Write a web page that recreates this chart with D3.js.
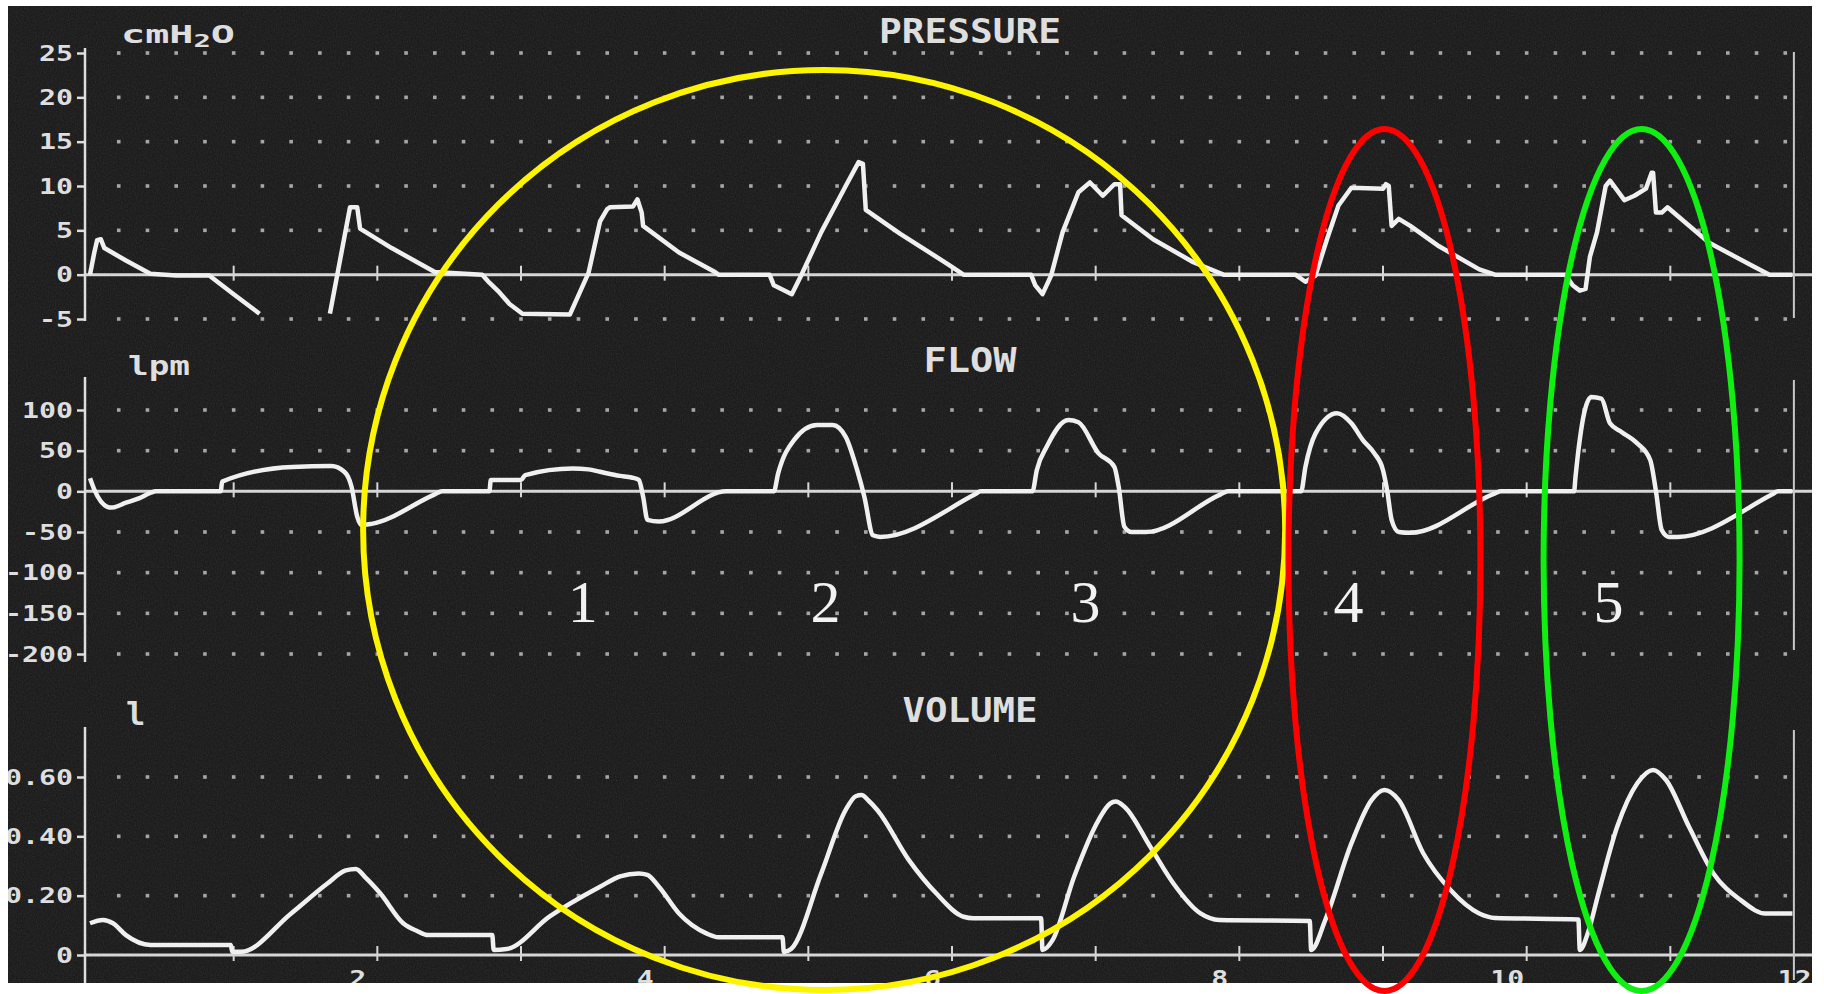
<!DOCTYPE html>
<html>
<head>
<meta charset="utf-8">
<script src="https://cdn.jsdelivr.net/npm/d3@7"></script>
<style>
body { margin: 0; background: #ffffff; }
svg { display: block; }
</style>
</head>
<body>
<svg id="vent" width="1824" height="994"></svg>
<script>
// ---- data (time in s) ----
var timeTicks = [2, 4, 6, 8, 10, 12];

var pressureTicks = [25, 20, 15, 10, 5, 0, -5];
var pressureLabels = ["25", "20", "15", "10", "5", "0", "-5"];
var flowTicks = [100, 50, 0, -50, -100, -150, -200];
var flowLabels = ["100", "50", "0", "-50", "-100", "-150", "-200"];
var volumeTicks = [0.6, 0.4, 0.2, 0];
var volumeLabels = ["0.60", "0.40", "0.20", "0"];

// cmH2O, null = trace off the bottom of the screen
var pressure = [
    [0, 0], [0.03, 2.5], [0.05, 3.9], [0.075, 4.0], [0.10, 3.0], [0.25, 1.6], [0.42, 0.1],
    [0.6, -0.1], [0.83, -0.1], [1.0, -2.2], [1.18, -4.4], null,
    [1.67, -4.4], [1.81, 7.6], [1.86, 7.6], [1.88, 5.2], [2.1, 3.0], [2.40, 0.3], [2.73, 0],
    [2.78, -0.9], [2.85, -2.0], [2.92, -3.3], [3.01, -4.4], [3.34, -4.5], [3.47, 0.2],
    [3.55, 6.0], [3.60, 7.4], [3.62, 7.6], [3.78, 7.7], [3.81, 8.5], [3.84, 7.0], [3.85, 5.5],
    [4.10, 2.5], [4.35, 0.3], [4.375, 0], [4.73, 0], [4.76, -1.2], [4.885, -2.2], [4.95, -0.1],
    [5.09, 4.8], [5.26, 10.0], [5.35, 12.7], [5.38, 12.5], [5.40, 7.3], [5.64, 4.6],
    [5.97, 1.2], [6.08, 0], [6.55, 0], [6.58, -1.2], [6.63, -2.2], [6.69, -0.1], [6.77, 4.8],
    [6.88, 9.3], [6.96, 10.4], [7.05, 8.9], [7.13, 10.2], [7.17, 10.2], [7.18, 6.7],
    [7.40, 4.0], [7.68, 1.4], [7.89, 0], [8.39, 0], [8.46, -0.8], [8.53, -0.1], [8.61, 4.0],
    [8.69, 7.8], [8.78, 9.8], [9.0, 9.7], [9.02, 10.2], [9.04, 10.0], [9.06, 5.5], [9.11, 6.3],
    [9.19, 5.5], [9.39, 3.2], [9.67, 0.6], [9.78, 0], [10.27, 0], [10.32, -1.2], [10.37, -1.8],
    [10.41, -1.6], [10.44, 2.0], [10.49, 4.8], [10.55, 10.0], [10.58, 10.6], [10.68, 8.4],
    [10.75, 8.9], [10.83, 9.7], [10.87, 11.5], [10.88, 11.5], [10.90, 7.0], [10.94, 7.0],
    [10.98, 7.6], [11.27, 3.6], [11.57, 1.0], [11.69, 0], [11.85, 0]
];

// lpm
var flow = [
    [0, 16], [0.03, 2], [0.12, -19], [0.15, -20], [0.25, -14], [0.34, -8.6], [0.42, -2],
    [0.46, 0], [0.91, 0], [0.92, 12], [1.41, 30], [1.68, 31], [1.77, 24], [1.82, 6],
    [1.86, -31], [1.89, -41.5], [1.96, -40], [2.40, -3.7], [2.45, 0], [2.78, 0], [2.79, 14],
    [3.0, 14], [3.03, 20], [3.36, 28], [3.47, 27], [3.55, 24], [3.69, 19], [3.77, 17],
    [3.82, 14], [3.85, -6.6], [3.88, -35], [3.96, -37], [4.43, 0], [4.76, 0], [4.79, 22],
    [4.90, 63], [5.06, 81.5], [5.17, 81.5], [5.26, 67], [5.34, 26], [5.39, -6.6], [5.45, -54],
    [5.50, -56], [6.16, -3.7], [6.2, 0], [6.56, 0], [6.59, 26], [6.66, 55], [6.81, 87.7],
    [6.88, 85], [7.02, 46.7], [7.13, 30], [7.16, 5.7], [7.20, -43.5], [7.25, -50], [7.35, -50],
    [7.87, -3.7], [7.92, 0], [8.43, 0], [8.46, 30], [8.53, 71], [8.68, 96], [8.78, 83.6],
    [8.86, 63], [8.94, 46.7], [9.0, 26], [9.03, 0], [9.06, -35], [9.11, -50], [9.19, -51],
    [9.78, -2.5], [9.82, 0], [10.33, 0], [10.34, 18], [10.40, 96], [10.45, 116], [10.52, 114],
    [10.58, 83.6], [10.66, 73], [10.77, 59], [10.86, 38.5], [10.90, 0], [10.94, -47.6],
    [10.99, -56], [11.05, -56], [11.71, -3.7], [11.75, 0], [11.85, 0]
];

// litres
var volume = [
    [0, 0.107], [0.09, 0.118], [0.16, 0.107], [0.25, 0.067], [0.42, 0.034], [0.98, 0.034],
    [0.99, 0.011], [1.05, 0.011], [1.4, 0.14], [1.65, 0.24], [1.78, 0.285], [1.85, 0.29],
    [1.92, 0.26], [2.02, 0.208], [2.18, 0.107], [2.28, 0.08], [2.35, 0.067], [2.80, 0.067],
    [2.81, 0.017], [2.90, 0.02], [3.2, 0.13], [3.55, 0.23], [3.69, 0.265], [3.82, 0.275],
    [3.88, 0.27], [3.96, 0.23], [4.10, 0.14], [4.29, 0.073], [4.375, 0.06], [4.82, 0.06],
    [4.83, 0.01], [4.88, 0.02], [5.09, 0.275], [5.26, 0.489], [5.33, 0.535], [5.37, 0.539],
    [5.42, 0.52], [5.48, 0.489], [5.70, 0.32], [5.89, 0.208], [6.08, 0.129], [6.15, 0.124],
    [6.62, 0.124], [6.63, 0.017], [6.70, 0.05], [6.85, 0.264], [7.02, 0.455], [7.10, 0.51],
    [7.14, 0.517], [7.20, 0.50], [7.38, 0.365], [7.54, 0.242], [7.73, 0.14], [7.86, 0.118],
    [8.49, 0.115], [8.50, 0.017], [8.60, 0.12], [8.78, 0.376], [8.92, 0.522], [9.01, 0.556],
    [9.11, 0.522], [9.28, 0.343], [9.47, 0.219], [9.67, 0.14], [9.78, 0.125], [10.36, 0.12],
    [10.37, 0.017], [10.43, 0.08], [10.50, 0.208], [10.63, 0.432], [10.77, 0.579],
    [10.88, 0.624], [10.97, 0.59], [11.13, 0.432], [11.30, 0.275], [11.49, 0.185],
    [11.66, 0.14], [11.85, 0.14]
];

var breathLabels = ["1", "2", "3", "4", "5"];
var breathLabelTimes = [3.43, 5.12, 6.93, 8.76, 10.57];

// ---- layout ----
var svg = d3.select("#vent");
var bgLeft = 8, bgTop = 6, bgRight = 1812, bgBottom = 983;
var axisX = 85;
var tEnd = 11.86;
var ink = "#f0f0f0";
var labelInk = "#dedede";
var mono = "'DejaVu Sans Mono', 'Liberation Mono', monospace";

var scX = d3.scaleLinear().domain([0, 12]).range([90, 1814]);

var defs = svg.append("defs");
defs.append("clipPath").attr("id", "screen")
    .append("rect")
    .attr("x", bgLeft).attr("y", bgTop)
    .attr("width", bgRight - bgLeft).attr("height", bgBottom - bgTop);
var grain = defs.append("filter").attr("id", "grain")
    .attr("x", 0).attr("y", 0).attr("width", 1).attr("height", 1);
grain.append("feTurbulence").attr("type", "fractalNoise")
    .attr("baseFrequency", "0.85 0.6").attr("numOctaves", 2).attr("seed", 7);
grain.append("feColorMatrix").attr("type", "saturate").attr("values", 0);

// screen background
svg.append("rect")
    .attr("x", bgLeft).attr("y", bgTop)
    .attr("width", bgRight - bgLeft).attr("height", bgBottom - bgTop)
    .attr("fill", "#161616");
svg.append("rect")
    .attr("x", bgLeft).attr("y", bgTop)
    .attr("width", bgRight - bgLeft).attr("height", bgBottom - bgTop)
    .attr("filter", "url(#grain)")
    .attr("opacity", 0.13);

var screen = svg.append("g").attr("clip-path", "url(#screen)");

var panels = [
    { title: "PRESSURE", titleW: 182, titleY: 43, data: pressure,
      ticks: pressureTicks, labels: pressureLabels, dots: [25, 20, 15, 10, 5, -5],
      y: d3.scaleLinear().domain([-5, 25]).range([319, 53]),
      axisTop: 48, axisBottom: 321, frameTop: 52, frameBottom: 318, curve: d3.curveLinear },
    { title: "FLOW", titleW: 93, titleY: 372, data: flow,
      ticks: flowTicks, labels: flowLabels, dots: [100, 50, -50, -100, -150, -200],
      y: d3.scaleLinear().domain([-200, 100]).range([654, 410]),
      axisTop: 377, axisBottom: 662, frameTop: 380, frameBottom: 650, curve: d3.curveMonotoneX },
    { title: "VOLUME", titleW: 135, titleY: 722, data: volume,
      ticks: volumeTicks, labels: volumeLabels, dots: [0.6, 0.4, 0.2],
      y: d3.scaleLinear().domain([0, 0.6]).range([955, 777]),
      axisTop: 727, axisBottom: 983, frameTop: 730, frameBottom: 980, curve: d3.curveMonotoneX }
];

var dotTimes = d3.range(1, 60).map(d => d * 0.2);

function drawPanel(p) {
    var g = screen.append("g");
    var y0 = p.y(0);

    // dotted grid
    p.dots.forEach(function(v) {
        g.append("g").selectAll("rect")
            .data(dotTimes).enter().append("rect")
            .attr("x", d => scX(d) - 1.8)
            .attr("y", p.y(v) - 1.8)
            .attr("width", 3.6).attr("height", 3.6)
            .attr("fill", "#a6a6a6");
    });

    // zero line + one-second ticks
    g.append("line")
        .attr("x1", axisX).attr("x2", bgRight)
        .attr("y1", y0).attr("y2", y0)
        .attr("stroke", "#d6d6d6").attr("stroke-width", 3);
    g.append("g").selectAll("line")
        .data(d3.range(1, 12)).enter().append("line")
        .attr("x1", d => scX(d)).attr("x2", d => scX(d))
        .attr("y1", y0 - 9).attr("y2", y0 + 6)
        .attr("stroke", "#d6d6d6").attr("stroke-width", 2);

    // left axis
    var yAxis = g.append("g")
        .attr("transform", "translate(" + axisX + ",0)")
        .call(d3.axisLeft(p.y).tickValues(p.ticks).tickSize(8).tickPadding(4)
            .tickFormat((d, i) => p.labels[i]));
    yAxis.select(".domain").remove();
    yAxis.selectAll("line").attr("stroke", labelInk).attr("stroke-width", 2.5);
    yAxis.selectAll("text")
        .attr("fill", labelInk)
        .style("font-family", mono).style("font-weight", "bold").style("font-size", "22px")
        .attr("textLength", function(d, i) { return p.labels[i].length * 17; })
        .attr("lengthAdjust", "spacingAndGlyphs");
    g.append("line")
        .attr("x1", axisX).attr("x2", axisX)
        .attr("y1", p.axisTop).attr("y2", p.axisBottom)
        .attr("stroke", labelInk).attr("stroke-width", 2.5);

    // right edge of the screen trace
    g.append("line")
        .attr("x1", scX(tEnd)).attr("x2", scX(tEnd))
        .attr("y1", p.frameTop).attr("y2", p.frameBottom)
        .attr("stroke", "#c8c8c8").attr("stroke-width", 2);

    // trace
    var lineMaker = d3.line()
        .defined(d => d !== null)
        .x(d => scX(d[0]))
        .y(d => p.y(d[1]))
        .curve(p.curve);
    g.append("path")
        .attr("d", lineMaker(p.data))
        .attr("fill", "none")
        .attr("stroke", ink)
        .attr("stroke-width", 4.5)
        .attr("stroke-linejoin", "round");

    // panel title
    g.append("text")
        .attr("x", 970).attr("y", p.titleY)
        .attr("text-anchor", "middle")
        .attr("fill", labelInk)
        .style("font-family", mono).style("font-weight", "bold").style("font-size", "33px")
        .attr("textLength", p.titleW).attr("lengthAdjust", "spacingAndGlyphs")
        .text(p.title);
}

panels.forEach(drawPanel);

// unit labels
var cm = screen.append("text")
    .attr("x", 121).attr("y", 43)
    .attr("fill", labelInk)
    .style("font-family", mono).style("font-weight", "bold").style("font-size", "25px")
    .attr("textLength", 114).attr("lengthAdjust", "spacingAndGlyphs");
cm.append("tspan").text("cmH");
cm.append("tspan").attr("dy", 4).style("font-size", "18px").text("2");
cm.append("tspan").attr("dy", -4).text("O");

screen.append("text")
    .attr("x", 128).attr("y", 375)
    .attr("fill", labelInk)
    .style("font-family", mono).style("font-weight", "bold").style("font-size", "26px")
    .attr("textLength", 62).attr("lengthAdjust", "spacingAndGlyphs")
    .text("lpm");

screen.append("text")
    .attr("x", 126).attr("y", 725)
    .attr("fill", labelInk)
    .style("font-family", mono).style("font-weight", "bold").style("font-size", "32px")
    .text("l");

// time labels along the bottom (cut by the print edge)
var xAxis = screen.append("g")
    .attr("transform", "translate(0," + panels[2].y(0) + ")")
    .call(d3.axisBottom(scX).tickValues(timeTicks).tickSize(0).tickPadding(15)
        .tickFormat(d => String(d)));
xAxis.select(".domain").remove();
xAxis.selectAll("text")
    .attr("dx", -20)
    .attr("fill", labelInk)
    .style("font-family", mono).style("font-weight", "bold").style("font-size", "22px")
    .attr("textLength", d => String(d).length * 17)
    .attr("lengthAdjust", "spacingAndGlyphs");

// breath numbers
screen.append("g").selectAll("text")
    .data(breathLabels).enter().append("text")
    .attr("x", (d, i) => scX(breathLabelTimes[i]))
    .attr("y", 622)
    .attr("text-anchor", "middle")
    .attr("fill", "#f2f2f2")
    .style("font-family", "'Liberation Serif', 'DejaVu Serif', serif")
    .style("font-size", "60px")
    .text(d => d);

// hand-drawn highlight rings
var rings = svg.append("g").attr("fill", "none").attr("stroke-width", 6);
rings.append("ellipse")
    .attr("cx", scX(5.11)).attr("cy", 530).attr("rx", 461).attr("ry", 460)
    .attr("stroke", "#fcf400");
rings.append("ellipse")
    .attr("cx", scX(9.01)).attr("cy", 560).attr("rx", 96).attr("ry", 431)
    .attr("stroke", "#ff0000");
rings.append("ellipse")
    .attr("cx", scX(10.8)).attr("cy", 560).attr("rx", 98).attr("ry", 431)
    .attr("stroke", "#11ee11");
</script>
</body>
</html>
